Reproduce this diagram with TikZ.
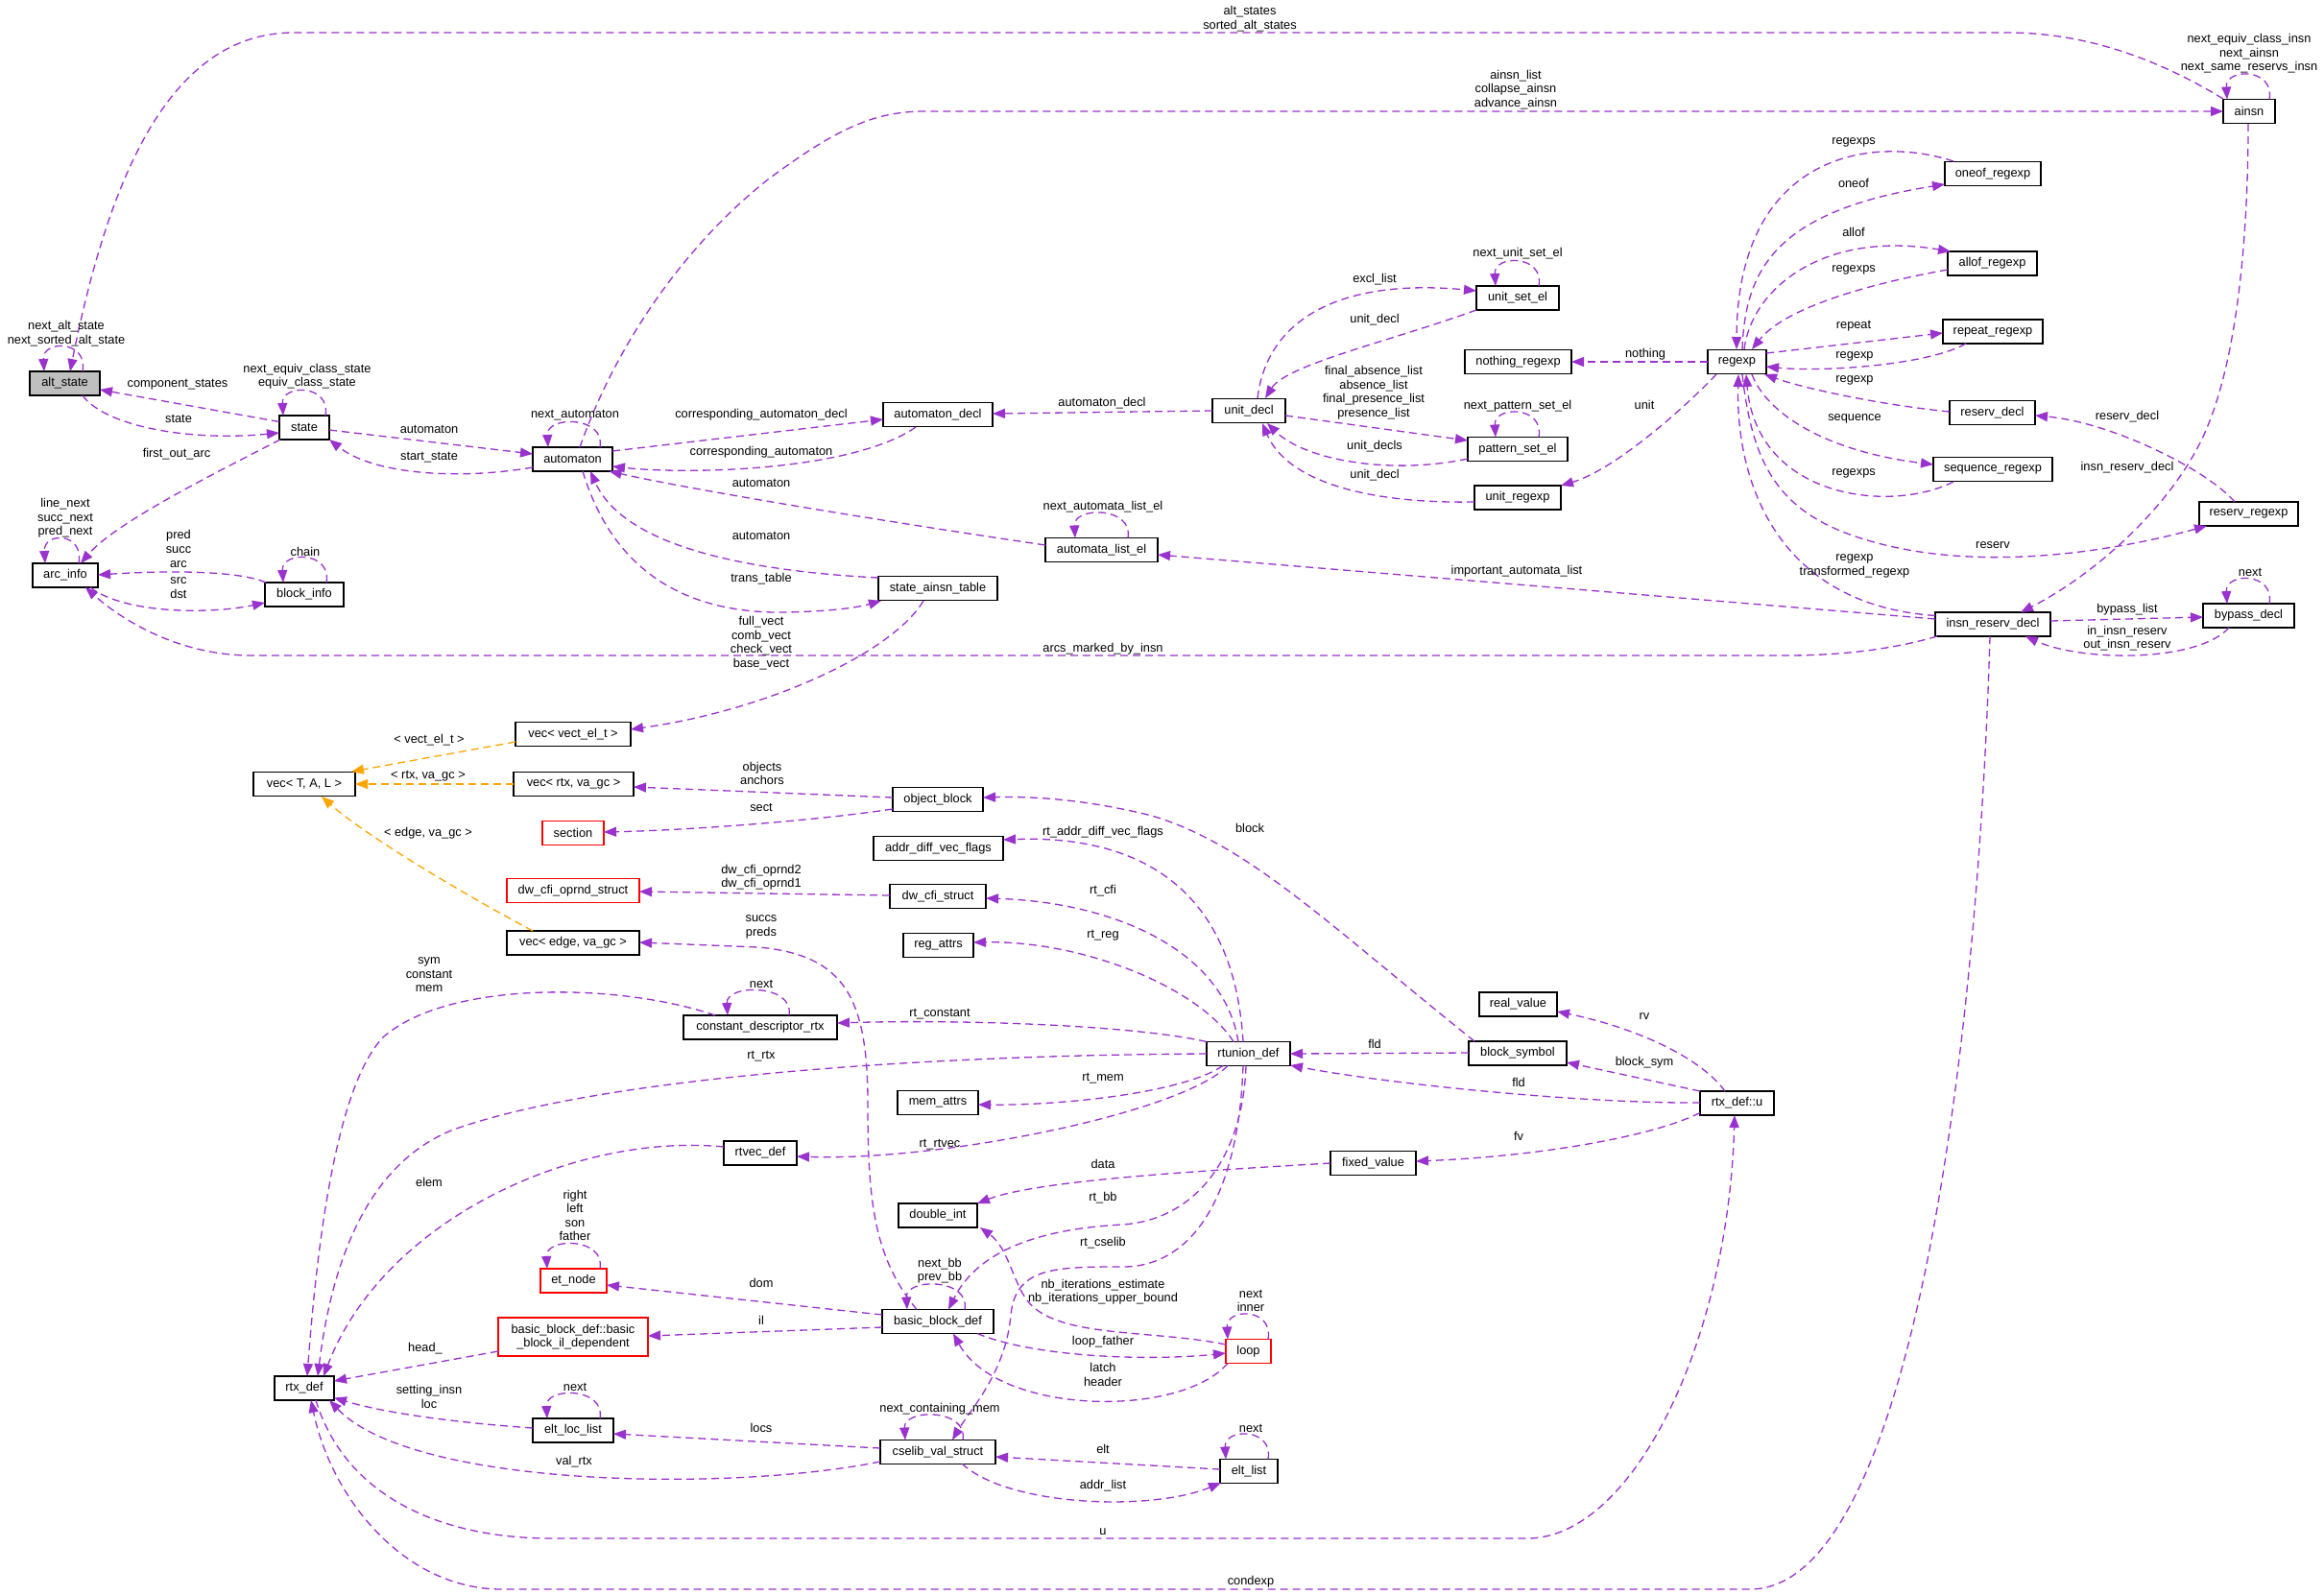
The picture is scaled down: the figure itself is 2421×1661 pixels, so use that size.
\documentclass[tikz,border=0pt]{standalone}
\usepackage{fontspec}
\setmainfont{Liberation Sans}
\usetikzlibrary{arrows.meta,calc}
\definecolor{ecol}{HTML}{9A32CD}
\definecolor{tcol}{HTML}{FFA500}
\definecolor{rootfill}{HTML}{BFBFBF}
\begin{document}
\begin{tikzpicture}[x=0.5pt,y=-0.5pt,
  box/.style={draw=black,fill=white,line width=0.65pt,minimum height=12.5pt,inner sep=0pt,font=\fontsize{6.4pt}{7.3pt}\selectfont,align=center},
  redbox/.style={box,draw=red},
  rootbox/.style={box,fill=rootfill},
  lbl/.style={inner sep=0pt,font=\fontsize{6.4pt}{7.3pt}\selectfont,align=center},
  coll/.style={color=ecol,line width=0.65pt,dash pattern=on 4pt off 2.5pt,-{Triangle[length=6.5pt,width=5pt]}},
  tmpl/.style={coll,color=tcol}]
\fill[white] (0,0) rectangle (2421,1661);
\useasboundingbox (0,0) rectangle (2421,1661);

% ---------------- nodes ----------------
\node[rootbox,minimum width=36.5pt] (alt_state) at (67.5,399.5) {alt\_state};
\node[box,minimum width=26pt] (state) at (317,445.5) {state};
\node[box,minimum width=41.5pt] (automaton) at (596.5,478.5) {automaton};
\node[box,minimum width=34pt] (arc_info) at (68,599.5) {arc\_info};
\node[box,minimum width=41pt] (block_info) at (317,619.5) {block\_info};
\node[box,minimum width=57pt] (automaton_decl) at (977,432) {automaton\_decl};
\node[box,minimum width=38pt] (unit_decl) at (1301,428) {unit\_decl};
\node[box,minimum width=43pt] (unit_set_el) at (1581,310.5) {unit\_set\_el};
\node[box,minimum width=55.5pt] (nothing_regexp) at (1581.5,377) {nothing\_regexp};
\node[box,minimum width=52pt] (pattern_set_el) at (1581,468) {pattern\_set\_el};
\node[box,minimum width=45pt] (unit_regexp) at (1581,518.5) {unit\_regexp};
\node[box,minimum width=58.5pt] (automata_list_el) at (1147.5,573) {automata\_list\_el};
\node[box,minimum width=62pt] (state_ainsn_table) at (977,613) {state\_ainsn\_table};
\node[box,minimum width=27pt] (ainsn) at (2343,116) {ainsn};
\node[box,minimum width=50pt] (oneof_regexp) at (2076,181) {oneof\_regexp};
\node[box,minimum width=46.5pt] (allof_regexp) at (2075.5,274.5) {allof\_regexp};
\node[box,minimum width=52pt] (repeat_regexp) at (2076,345.5) {repeat\_regexp};
\node[box,minimum width=30.5pt] (regexp) at (1809.5,377) {regexp};
\node[box,minimum width=44.5pt] (reserv_decl) at (2075.5,430) {reserv\_decl};
\node[box,minimum width=62pt] (sequence_regexp) at (2076,489) {sequence\_regexp};
\node[box,minimum width=51.5pt] (reserv_regexp) at (2342.5,535.5) {reserv\_regexp};
\node[box,minimum width=60pt] (insn_reserv_decl) at (2076,650.5) {insn\_reserv\_decl};
\node[box,minimum width=47.5pt] (bypass_decl) at (2342.5,641.5) {bypass\_decl};
\node[box,minimum width=60pt] (vec_vect) at (597,765) {vec< vect\_el\_t >};
\node[box,minimum width=53pt] (vecTAL) at (317,817) {vec< T, A, L >};
\node[box,minimum width=62.5pt] (vec_rtx) at (597.5,817) {vec< rtx, va\_gc >};
\node[redbox,minimum width=32pt] (section) at (597,868) {section};
\node[redbox,minimum width=69pt] (dw_cfi_oprnd) at (597,928) {dw\_cfi\_oprnd\_struct};
\node[box,minimum width=69pt] (vec_edge) at (597,982.5) {vec< edge, va\_gc >};
\node[box,minimum width=80pt] (cdrtx) at (792,1070.5) {constant\_descriptor\_rtx};
\node[box,minimum width=47pt] (object_block) at (977,833) {object\_block};
\node[box,minimum width=67.5pt] (addr_diff) at (977.5,884) {addr\_diff\_vec\_flags};
\node[box,minimum width=50pt] (dw_cfi_struct) at (977,934) {dw\_cfi\_struct};
\node[box,minimum width=36.5pt] (reg_attrs) at (977.5,985) {reg\_attrs};
\node[box,minimum width=43.5pt] (rtunion_def) at (1300.5,1098) {rtunion\_def};
\node[box,minimum width=42pt] (mem_attrs) at (977,1149) {mem\_attrs};
\node[box,minimum width=51pt] (block_symbol) at (1581,1097.5) {block\_symbol};
\node[box,minimum width=40.5pt] (real_value) at (1581.5,1046.5) {real\_value};
\node[box,minimum width=38.5pt] (rtx_u) at (1809.5,1149.5) {rtx\_def::u};
\node[box,minimum width=38pt] (rtvec_def) at (792,1201.5) {rtvec\_def};
\node[box,minimum width=44.5pt] (fixed_value) at (1430.5,1212) {fixed\_value};
\node[box,minimum width=41pt] (double_int) at (977,1266.5) {double\_int};
\node[redbox,minimum width=34.5pt] (et_node) at (597.5,1334.5) {et\_node};
\node[redbox,minimum width=78pt,minimum height=20pt] (bbil) at (597,1393) {basic\_block\_def::basic\\\_block\_il\_dependent};
\node[box,minimum width=58pt] (bbd) at (977,1377) {basic\_block\_def};
\node[redbox,minimum width=23.5pt] (loop) at (1300.5,1408) {loop};
\node[box,minimum width=31pt] (rtx_def) at (317,1446.5) {rtx\_def};
\node[box,minimum width=42pt] (elt_loc_list) at (597,1490.5) {elt\_loc\_list};
\node[box,minimum width=60pt] (cselib) at (977,1513) {cselib\_val\_struct};
\node[box,minimum width=30pt] (elt_list) at (1301,1533) {elt\_list};

% ---------------- edges ----------------
\draw[coll] ($(ainsn)+(-27,-13)$) .. controls (2270,75) and (2190,34) .. (2092,34) -- (306,34) .. controls (176,34) and (113,187) .. ($(alt_state)+(5.5,-12.5)$);
\draw[coll] ($(alt_state)+(18.5,-12.5)$) .. controls +(6,-33) and +(-2,-33) .. ($(alt_state)+(-21.5,-12.5)$);
\draw[coll] ($(state)+(-26,-6)$) -- ($(alt_state)+(36.5,6.5)$);
\draw[coll] ($(alt_state)+(18.5,12.5)$) .. controls (110,445) and (200,460) .. ($(state)+(-26,5.5)$);
\draw[coll] ($(state)+(22,-12.5)$) .. controls +(6,-33) and +(-2,-33) .. ($(state)+(-22,-12.5)$);
\draw[coll] ($(state)+(26,2.5)$) -- ($(automaton)+(-41.5,-5.5)$);
\draw[coll] ($(automaton)+(-41.5,8.5)$) .. controls (480,500) and (390,495) .. ($(state)+(26,12.5)$);
\draw[coll] ($(automaton)+(28.5,-12.5)$) .. controls +(6,-33) and +(-2,-33) .. ($(automaton)+(-25.5,-12.5)$);
\draw[coll] ($(state)+(-25,12.5)$) .. controls (220,495) and (120,545) .. ($(arc_info)+(16,-12.5)$);
\draw[coll] ($(arc_info)+(14,-12.5)$) .. controls +(6,-33) and +(-2,-33) .. ($(arc_info)+(-21,-12.5)$);
\draw[coll] ($(block_info)+(-40,-12.5)$) .. controls (250,595) and (180,594) .. ($(arc_info)+(34,-0.5)$);
\draw[coll] ($(arc_info)+(26,12.5)$) .. controls (130,640) and (220,640) .. ($(block_info)+(-41,8.5)$);
\draw[coll] ($(block_info)+(23,-12.5)$) .. controls +(6,-33) and +(-2,-33) .. ($(block_info)+(-22,-12.5)$);
\draw[coll] ($(insn_reserv_decl)+(-58,12.5)$) .. controls (1960,680) and (1900,683) .. (1860,683) -- (262,683) .. controls (180,683) and (120,640) .. ($(arc_info)+(21,12.5)$);
\draw[coll] ($(insn_reserv_decl)+(-60,-5.5)$) -- ($(automata_list_el)+(58.5,5)$);
\draw[coll] ($(automaton)+(41.5,-8.5)$) -- ($(automaton_decl)+(-57,5)$);
\draw[coll] ($(automaton_decl)+(-23,13)$) .. controls (890,490) and (720,495) .. ($(automaton)+(41.5,7.5)$);
\draw[coll] ($(unit_decl)+(-38,0)$) -- ($(automaton_decl)+(57,-1)$);
\draw[coll] ($(automata_list_el)+(-58.5,-5)$) .. controls (900,540) and (720,510) .. ($(automaton)+(38,12.5)$);
\draw[coll] ($(state_ainsn_table)+(-62,-11)$) .. controls (780,595) and (650,570) .. ($(automaton)+(18.5,12.5)$);
\draw[coll] ($(automaton)+(10.5,12.5)$) .. controls (640,600) and (720,640) .. (820,638) .. controls (860,637) and (890,634) .. ($(state_ainsn_table)+(-59,13)$);
\draw[coll] ($(state_ainsn_table)+(-15,13)$) .. controls (930,680) and (800,740) .. ($(vec_vect)+(60,-5)$);
\draw[coll] ($(unit_decl)+(9,-13)$) .. controls (1320,330) and (1400,290) .. ($(unit_set_el)+(-43,-7.5)$);
\draw[coll] ($(unit_set_el)+(-43,12.5)$) .. controls (1450,355) and (1340,380) .. ($(unit_decl)+(17,-13)$);
\draw[coll] ($(unit_set_el)+(22,-12.5)$) .. controls +(6,-33) and +(-2,-33) .. ($(unit_set_el)+(-23,-12.5)$);
\draw[coll] ($(unit_decl)+(38,5)$) -- ($(pattern_set_el)+(-52,-9)$);
\draw[coll] ($(pattern_set_el)+(-52,10)$) .. controls (1450,495) and (1360,480) .. ($(unit_decl)+(19,13)$);
\draw[coll] ($(pattern_set_el)+(22,-12.5)$) .. controls +(6,-33) and +(-2,-33) .. ($(pattern_set_el)+(-23,-12.5)$);
\draw[coll] ($(unit_regexp)+(-45,4.5)$) .. controls (1420,525) and (1340,500) .. ($(unit_decl)+(14,13)$);
\draw[coll] ($(automata_list_el)+(27.5,-12.5)$) .. controls +(6,-33) and +(-2,-33) .. ($(automata_list_el)+(-27.5,-12.5)$);
\draw[coll] ($(automaton)+(7.5,-12.5)$) .. controls (645,350) and (720,250) .. (800,187) .. controls (870,135) and (910,116) .. (963,116) -- ($(ainsn)+(-27,0)$);
\draw[coll] ($(ainsn)+(21,-12.5)$) .. controls +(6,-33) and +(-2,-33) .. ($(ainsn)+(-23,-12.5)$);
\draw[coll] ($(ainsn)+(-1,13)$) .. controls (2342,250) and (2330,380) .. (2295,455) .. controls (2260,530) and (2180,600) .. ($(insn_reserv_decl)+(29,-12.5)$);
\draw[coll] ($(oneof_regexp)+(-41,-13)$) .. controls (1950,140) and (1810,160) .. ($(regexp)+(-0.5,-13)$);
\draw[coll] ($(regexp)+(5.5,-13)$) .. controls (1818,280) and (1850,220) .. ($(oneof_regexp)+(-50,11)$);
\draw[coll] ($(regexp)+(7.5,-13)$) .. controls (1825,300) and (1900,240) .. ($(allof_regexp)+(-43.5,-12.5)$);
\draw[coll] ($(allof_regexp)+(-46.5,6.5)$) .. controls (1950,295) and (1860,320) .. ($(regexp)+(15.5,-13)$);
\draw[coll] ($(regexp)+(30.5,-9)$) -- ($(repeat_regexp)+(-52,1.5)$);
\draw[coll] ($(repeat_regexp)+(-28,12.5)$) .. controls (2010,380) and (1900,388) .. ($(regexp)+(30.5,5)$);
\draw[coll] ($(reserv_decl)+(-44.5,-1)$) .. controls (1960,422) and (1880,405) .. ($(regexp)+(28.5,13)$);
\draw[coll] ($(regexp)+(15.5,13)$) .. controls (1840,430) and (1900,470) .. ($(sequence_regexp)+(-62,-5)$);
\draw[coll] ($(sequence_regexp)+(-41,13)$) .. controls (1970,535) and (1830,520) .. ($(regexp)+(9.5,13)$);
\draw[coll] ($(regexp)+(5.5,13)$) .. controls (1825,480) and (1850,530) .. (1930,558) .. controls (2050,600) and (2200,575) .. ($(reserv_regexp)+(-43.5,12.5)$);
\draw[coll] ($(reserv_regexp)+(-14.5,-12.5)$) .. controls (2300,490) and (2200,440) .. ($(reserv_decl)+(44.5,3)$);
\draw[coll] ($(regexp)+(-30.5,0)$) -- ($(nothing_regexp)+(55.5,0)$);
\draw[coll] ($(regexp)+(-21.5,13)$) .. controls (1750,430) and (1680,490) .. ($(unit_regexp)+(45,-12.5)$);
\draw[coll] ($(insn_reserv_decl)+(-60,-9)$) .. controls (1850,630) and (1808,500) .. ($(regexp)+(1.5,13)$);
\draw[coll] ($(insn_reserv_decl)+(60,-3.5)$) -- ($(bypass_decl)+(-47.5,1.5)$);
\draw[coll] ($(bypass_decl)+(-20.5,12.5)$) .. controls (2290,690) and (2170,690) .. ($(insn_reserv_decl)+(34,12.5)$);
\draw[coll] ($(bypass_decl)+(21.5,-12.5)$) .. controls +(6,-33) and +(-2,-33) .. ($(bypass_decl)+(-22.5,-12.5)$);
\draw[coll] ($(insn_reserv_decl)+(-3,12.5)$) .. controls (2060,1100) and (1990,1656) .. (1823,1656) -- (523,1656) .. controls (420,1656) and (345,1560) .. ($(rtx_def)+(7,12.5)$);
\draw[coll] ($(rtx_def)+(12,12.5)$) .. controls (360,1560) and (460,1603) .. (575,1603) -- (1591,1603) .. controls (1700,1603) and (1800,1400) .. ($(rtx_u)+(-2.5,12.5)$);
\draw[tmpl] ($(vec_vect)+(-60,8)$) -- ($(vecTAL)+(49,-13)$);
\draw[tmpl] ($(vec_rtx)+(-62.5,0)$) -- ($(vecTAL)+(53,0)$);
\draw[tmpl] ($(vec_edge)+(-42,-12.5)$) .. controls (480,930) and (380,870) .. ($(vecTAL)+(18,13)$);
\draw[coll] ($(object_block)+(-47,-2)$) -- ($(vec_rtx)+(62.5,3)$);
\draw[coll] ($(object_block)+(-47,10)$) .. controls (850,855) and (720,865) .. ($(section)+(32,-1)$);
\draw[coll] ($(dw_cfi_struct)+(-50,-1)$) -- ($(dw_cfi_oprnd)+(69,1)$);
\draw[coll] ($(bbd)+(-22,-12.5)$) .. controls (910,1310) and (904,1250) .. (904,1150) .. controls (904,1040) and (880,995) .. (790,987) -- ($(vec_edge)+(69,-0.5)$);
\draw[coll] ($(cdrtx)+(30,-12.5)$) .. controls +(6,-33) and +(-2,-33) .. ($(cdrtx)+(-34,-12.5)$);
\draw[coll] ($(cdrtx)+(-47,-12.5)$) .. controls (650,1025) and (470,1020) .. (400,1080) .. controls (350,1130) and (330,1300) .. ($(rtx_def)+(3,-12.5)$);
\draw[coll] ($(rtunion_def)+(-43.5,-12.5)$) .. controls (1180,1068) and (1000,1062) .. ($(cdrtx)+(80,-4.5)$);
\draw[coll] ($(rtunion_def)+(-43.5,0)$) .. controls (900,1100) and (600,1130) .. (470,1178) .. controls (380,1215) and (345,1320) .. ($(rtx_def)+(14,-12.5)$);
\draw[coll] ($(rtvec_def)+(-38,-6.5)$) .. controls (600,1180) and (400,1270) .. ($(rtx_def)+(20,-12.5)$);
\draw[coll] ($(rtunion_def)+(-26.5,12.5)$) .. controls (1230,1140) and (1100,1152) .. ($(mem_attrs)+(42,2)$);
\draw[coll] ($(rtunion_def)+(-21.5,12.5)$) .. controls (1230,1160) and (980,1210) .. ($(rtvec_def)+(38,3.5)$);
\draw[coll] ($(rtunion_def)+(-5.5,-12.5)$) .. controls (1285,920) and (1180,870) .. ($(addr_diff)+(67.5,-9)$);
\draw[coll] ($(rtunion_def)+(-10.5,-12.5)$) .. controls (1275,990) and (1160,940) .. ($(dw_cfi_struct)+(50,2)$);
\draw[coll] ($(rtunion_def)+(-15.5,-12.5)$) .. controls (1250,1030) and (1130,980) .. ($(reg_attrs)+(36.5,-3)$);
\draw[coll] ($(block_symbol)+(-45,-12.5)$) .. controls (1380,960) and (1300,880) .. (1200,850) .. controls (1120,830) and (1060,830) .. ($(object_block)+(47,-2)$);
\draw[coll] ($(block_symbol)+(-51,-0.5)$) -- ($(rtunion_def)+(43.5,0)$);
\draw[coll] ($(rtx_u)+(-38.5,-0.5)$) .. controls (1650,1150) and (1450,1130) .. ($(rtunion_def)+(43.5,12)$);
\draw[coll] ($(rtx_u)+(-12.5,-12.5)$) .. controls (1770,1100) and (1700,1070) .. ($(real_value)+(40.5,7.5)$);
\draw[coll] ($(rtx_u)+(-38.5,-12.5)$) -- ($(block_symbol)+(51,9.5)$);
\draw[coll] ($(rtx_u)+(-38.5,10)$) .. controls (1720,1185) and (1600,1205) .. ($(fixed_value)+(44.5,-2)$);
\draw[coll] ($(fixed_value)+(-44.5,0)$) .. controls (1250,1220) and (1080,1230) .. ($(double_int)+(41,-12.5)$);
\draw[coll] ($(rtunion_def)+(-2.5,12.5)$) .. controls (1295,1200) and (1250,1270) .. (1170,1276) .. controls (1090,1280) and (1020,1300) .. ($(bbd)+(11,-12.5)$);
\draw[coll] ($(rtunion_def)+(-5.5,12.5)$) .. controls (1290,1250) and (1240,1320) .. (1170,1320) .. controls (1100,1320) and (1058,1320) .. (1053,1370) .. controls (1048,1430) and (1010,1470) .. ($(cselib)+(15,-12.5)$);
\draw[coll] ($(loop)+(-23.5,-7)$) .. controls (1200,1385) and (1100,1395) .. (1070,1355) .. controls (1055,1335) and (1050,1300) .. ($(double_int)+(44,12.5)$);
\draw[coll] ($(bbd)+(41,12.5)$) .. controls (1080,1415) and (1200,1418) .. ($(loop)+(-23.5,2)$);
\draw[coll] ($(loop)+(-21.5,12.5)$) .. controls (1230,1478) and (1040,1475) .. ($(bbd)+(16,12.5)$);
\draw[coll] ($(loop)+(20.5,-12.5)$) .. controls +(6,-33) and +(-2,-33) .. ($(loop)+(-21.5,-12.5)$);
\draw[coll] ($(bbd)+(-58,-7)$) -- ($(et_node)+(34.5,4.5)$);
\draw[coll] ($(et_node)+(27.5,-12.5)$) .. controls +(6,-33) and +(-2,-33) .. ($(et_node)+(-27.5,-12.5)$);
\draw[coll] ($(bbd)+(-58,6)$) -- ($(bbil)+(78,-1)$);
\draw[coll] ($(bbil)+(-78,15)$) -- ($(rtx_def)+(31,-7.5)$);
\draw[coll] ($(elt_loc_list)+(-42,-2.5)$) .. controls (470,1482) and (400,1472) .. ($(rtx_def)+(31,10)$);
\draw[coll] ($(elt_loc_list)+(28,-12.5)$) .. controls +(6,-33) and +(-2,-33) .. ($(elt_loc_list)+(-27,-12.5)$);
\draw[coll] ($(cselib)+(-60,-4)$) -- ($(elt_loc_list)+(42,3.5)$);
\draw[coll] ($(cselib)+(-60,10)$) .. controls (760,1555) and (430,1550) .. ($(rtx_def)+(26,12.5)$);
\draw[coll] ($(cselib)+(26,-12.5)$) .. controls +(6,-33) and +(-2,-33) .. ($(cselib)+(-34,-12.5)$);
\draw[coll] ($(bbd)+(28,-12.5)$) .. controls +(6,-33) and +(-2,-33) .. ($(bbd)+(-32,-12.5)$);
\draw[coll] ($(elt_list)+(-30,-2)$) -- ($(cselib)+(60,5)$);
\draw[coll] ($(cselib)+(25,12)$) .. controls (1050,1570) and (1200,1575) .. ($(elt_list)+(-29,12)$);
\draw[coll] ($(elt_list)+(20,-12.5)$) .. controls +(6,-33) and +(-2,-33) .. ($(elt_list)+(-24,-12.5)$);

% ---------------- labels ----------------
\node[lbl] (L01) at (1302,19.5) {alt\_states\\sorted\_alt\_states};
\node[lbl] (L02) at (1579,93.5) {ainsn\_list\\collapse\_ainsn\\advance\_ainsn};
\node[lbl] (L03) at (2343,56) {next\_equiv\_class\_insn\\next\_ainsn\\next\_same\_reservs\_insn};
\node[lbl] (L04) at (69,347.5) {next\_alt\_state\\next\_sorted\_alt\_state};
\node[lbl] (L05) at (185,401) {component\_states};
\node[lbl] (L06) at (186,436) {state};
\node[lbl] (L07) at (320,392) {next\_equiv\_class\_state\\equiv\_class\_state};
\node[lbl] (L08) at (447,447) {automaton};
\node[lbl] (L09) at (447,477) {start\_state};
\node[lbl] (L10) at (599,433) {next\_automaton};
\node[lbl] (L11) at (184,473) {first\_out\_arc};
\node[lbl] (L12) at (68,540) {line\_next\\succ\_next\\pred\_next};
\node[lbl] (L13) at (186,572) {pred\\succ\\arc};
\node[lbl] (L14) at (186,612.5) {src\\dst};
\node[lbl] (L15) at (318,575) {chain};
\node[lbl] (L16) at (793,432) {corresponding\_automaton\_decl};
\node[lbl] (L17) at (793,471) {corresponding\_automaton};
\node[lbl] (L18) at (793,503) {automaton};
\node[lbl] (L19) at (793,558) {automaton};
\node[lbl] (L20) at (793,603) {trans\_table};
\node[lbl] (L21) at (793,670) {full\_vect\\comb\_vect\\check\_vect\\base\_vect};
\node[lbl] (L22) at (1148,420) {automaton\_decl};
\node[lbl] (L23) at (1432,291) {excl\_list};
\node[lbl] (L24) at (1432,333) {unit\_decl};
\node[lbl] (L25) at (1431,409) {final\_absence\_list\\absence\_list\\final\_presence\_list\\presence\_list};
\node[lbl] (L26) at (1432,465) {unit\_decls};
\node[lbl] (L27) at (1432,495) {unit\_decl};
\node[lbl] (L28) at (1581,264) {next\_unit\_set\_el};
\node[lbl] (L29) at (1581,423) {next\_pattern\_set\_el};
\node[lbl] (L30) at (1149,528) {next\_automata\_list\_el};
\node[lbl] (L31) at (1580,595) {important\_automata\_list};
\node[lbl] (L32) at (1149,676) {arcs\_marked\_by\_insn};
\node[lbl] (L33) at (1931,148) {regexps};
\node[lbl] (L34) at (1931,191) {oneof};
\node[lbl] (L35) at (1931,242) {allof};
\node[lbl] (L36) at (1931,281) {regexps};
\node[lbl] (L37) at (1931,340) {repeat};
\node[lbl] (L38) at (1932,371) {regexp};
\node[lbl] (L39) at (1932,396) {regexp};
\node[lbl] (L40) at (1714,369) {nothing};
\node[lbl] (L41) at (1713,422) {unit};
\node[lbl] (L42) at (1932,436) {sequence};
\node[lbl] (L43) at (1931,493) {regexps};
\node[lbl] (L44) at (2216,434) {reserv\_decl};
\node[lbl] (L45) at (2216,487) {insn\_reserv\_decl};
\node[lbl] (L46) at (2076,568) {reserv};
\node[lbl] (L47) at (1932,590) {regexp\\transformed\_regexp};
\node[lbl] (L48) at (2344,596) {next};
\node[lbl] (L49) at (2216,635) {bypass\_list};
\node[lbl] (L50) at (2216,665) {in\_insn\_reserv\\out\_insn\_reserv};
\node[lbl] (L51) at (447,771) {< vect\_el\_t >};
\node[lbl] (L52) at (446,809) {< rtx, va\_gc >};
\node[lbl] (L53) at (446,868) {< edge, va\_gc >};
\node[lbl] (L54) at (794,806) {objects\\anchors};
\node[lbl] (L55) at (793,841) {sect};
\node[lbl] (L56) at (793,914) {dw\_cfi\_oprnd2\\dw\_cfi\_oprnd1};
\node[lbl] (L57) at (793,966) {succs\\preds};
\node[lbl] (L58) at (447,1016) {sym\\constant\\mem};
\node[lbl] (L59) at (793,1025) {next};
\node[lbl] (L60) at (793,1101) {rt\_rtx};
\node[lbl] (L61) at (1302,863) {block};
\node[lbl] (L62) at (1149,867) {rt\_addr\_diff\_vec\_flags};
\node[lbl] (L63) at (1149,928) {rt\_cfi};
\node[lbl] (L64) at (1149,975) {rt\_reg};
\node[lbl] (L65) at (979,1057) {rt\_constant};
\node[lbl] (L66) at (1432,1088) {fld};
\node[lbl] (L67) at (1582,1128) {fld};
\node[lbl] (L68) at (1149,1124) {rt\_mem};
\node[lbl] (L69) at (1713,1059) {rv};
\node[lbl] (L70) at (1713,1107) {block\_sym};
\node[lbl] (L71) at (1582,1184) {fv};
\node[lbl] (L72) at (447,1232) {elem};
\node[lbl] (L73) at (599,1266.5) {right\\left\\son\\father};
\node[lbl] (L74) at (793,1337) {dom};
\node[lbl] (L75) at (793,1376) {il};
\node[lbl] (L76) at (443,1405) {head\_};
\node[lbl] (L77) at (447,1455.5) {setting\_insn\\loc};
\node[lbl] (L78) at (599,1445) {next};
\node[lbl] (L79) at (793,1488) {locs};
\node[lbl] (L80) at (598,1523) {val\_rtx};
\node[lbl] (L81) at (979,1193) {rt\_rtvec};
\node[lbl] (L82) at (1149,1213) {data};
\node[lbl] (L83) at (1149,1248) {rt\_bb};
\node[lbl] (L84) at (1149,1295) {rt\_cselib};
\node[lbl] (L85) at (979,1324) {next\_bb\\prev\_bb};
\node[lbl] (L86) at (1149,1346) {nb\_iterations\_estimate\\nb\_iterations\_upper\_bound};
\node[lbl] (L87) at (1303,1355.5) {next\\inner};
\node[lbl] (L88) at (1149,1398) {loop\_father};
\node[lbl] (L89) at (1149,1432.5) {latch\\header};
\node[lbl] (L90) at (979,1468) {next\_containing\_mem};
\node[lbl] (L91) at (1303,1488) {next};
\node[lbl] (L92) at (1149,1510) {elt};
\node[lbl] (L93) at (1149,1548) {addr\_list};
\node[lbl] (L94) at (1149,1596) {u};
\node[lbl] (L95) at (1303,1648) {condexp};
\end{tikzpicture}
\end{document}
